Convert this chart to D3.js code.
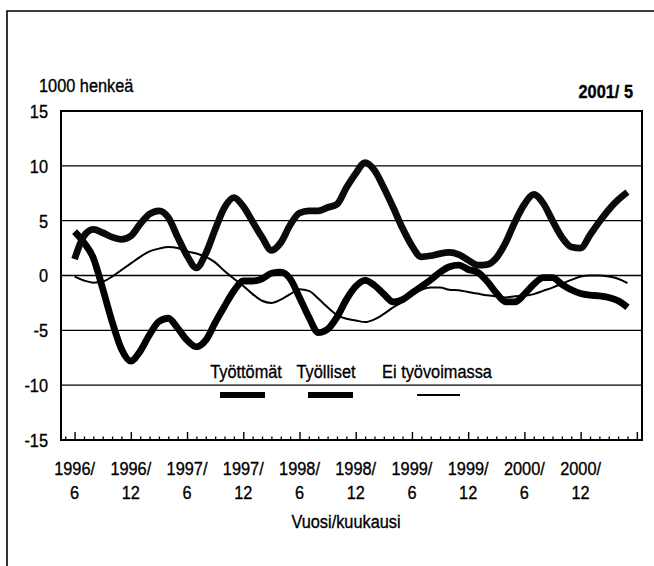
<!DOCTYPE html>
<html><head><meta charset="utf-8">
<script src="https://cdn.jsdelivr.net/npm/d3@7"></script>
<style>
body{margin:0;background:#fff}
svg text{font-family:"Liberation Sans",Arial,sans-serif;fill:#000;stroke:#000;stroke-width:0.35}
</style></head><body><svg id="c" width="654" height="566"></svg>
<script>
// monthly values 1996/6 .. 2001/5 (1000 persons)
const tyottomat = [4.0,3.0,1.6,-1.2,-4.2,-6.7,-7.8,-6.9,-5.4,-4.2,-3.9,-4.8,-5.9,-6.5,-5.9,-4.3,-2.8,-1.4,-0.5,-0.5,-0.3,0.2,0.3,-0.3,-2.0,-3.8,-5.2,-4.9,-3.8,-2.2,-1.0,-0.45,-0.9,-1.7,-2.4,-2.2,-1.6,-1.0,-0.4,0.3,0.8,0.95,0.55,0.3,-0.5,-1.6,-2.4,-2.4,-1.7,-0.8,-0.2,-0.2,-0.8,-1.3,-1.65,-1.8,-1.85,-2.0,-2.3,-2.9];
const tyolliset = [1.5,3.6,4.2,3.9,3.5,3.3,3.6,4.7,5.6,5.9,5.3,3.5,1.8,0.7,2.0,4.2,6.2,7.1,6.3,4.9,3.5,2.3,3.0,4.6,5.7,5.9,5.9,6.2,6.5,8.0,9.3,10.3,9.6,8.0,6.2,4.3,2.7,1.7,1.8,2.0,2.1,1.9,1.4,0.95,1.0,1.6,3.0,4.9,6.5,7.4,6.6,5.0,3.5,2.6,2.5,3.7,4.9,6.0,6.9,7.6];
const eiTyovoimassa = [-0.1,-0.45,-0.65,-0.55,-0.1,0.5,1.1,1.7,2.2,2.45,2.6,2.5,2.2,2.0,1.7,1.2,0.4,-0.3,-0.95,-1.7,-2.3,-2.5,-2.2,-1.7,-1.25,-1.4,-2.1,-2.9,-3.6,-3.95,-4.1,-4.25,-4.0,-3.5,-2.9,-2.4,-1.8,-1.3,-1.1,-1.1,-1.3,-1.35,-1.5,-1.65,-1.8,-1.9,-2.0,-1.9,-1.85,-1.7,-1.4,-1.1,-0.75,-0.4,-0.1,0.0,0.0,-0.1,-0.3,-0.7];
const xTickYears = ["1996/","1996/","1997/","1997/","1998/","1998/","1999/","1999/","2000/","2000/"];
const xTickMonths = ["6","12","6","12","6","12","6","12","6","12"];
const yTicks = [15,10,5,0,-5,-10,-15];
const gridValues = [10,5,0,-5,-10];
const seriesNames = ["Työttömät","Työlliset","Ei työvoimassa"];
const yTitle = "1000 henkeä";
const period = "2001/ 5";
const xTitle = "Vuosi/kuukausi";

const svg = d3.select("#c");
const L=61,R=642,T=111,B=440;
const SX=0.86, FS=19;
const x = d3.scaleLinear().domain([-1.45,60.55]).range([L,R]);
const y = d3.scaleLinear().domain([-15,15]).range([B,T]);

function label(px,py,str,anchor,opts={}){
  const t = svg.append("text")
    .attr("transform",`translate(${px},${py}) scale(${SX},1)`)
    .attr("text-anchor",anchor||"start")
    .attr("font-size",opts.size||FS)
    .text(str);
  if(opts.bold) t.attr("font-weight","bold");
  if(opts.dy) t.attr("dy",opts.dy);
  return t;
}

// outer frame
svg.append("path").attr("d",`M7,566V11H654`).attr("fill","none").attr("stroke","#000").attr("stroke-width",1.6);

// gridlines
svg.append("g").selectAll("line").data(gridValues).join("line")
  .attr("x1",L).attr("x2",R).attr("y1",d=>y(d)).attr("y2",d=>y(d))
  .attr("stroke","#000").attr("stroke-width",1.4);

// minor / major ticks
const monthIdx = d3.range(-1,61);
svg.append("g").attr("transform",`translate(0,${B})`)
  .call(d3.axisBottom(x).tickValues(monthIdx.filter(i=>i%6!==0)).tickSize(-3.5).tickFormat(""))
  .call(g=>g.select(".domain").remove())
  .call(g=>g.selectAll("line").attr("stroke","#000").attr("stroke-width",1.3));
svg.append("g").attr("transform",`translate(0,${B})`)
  .call(d3.axisBottom(x).tickValues(monthIdx.filter(i=>i%6===0)).tickSize(-8).tickFormat(""))
  .call(g=>g.select(".domain").remove())
  .call(g=>g.selectAll("line").attr("stroke","#000").attr("stroke-width",1.4));

// y axis labels
yTicks.forEach(v=>label(48,y(v),String(v),"end",{dy:"0.36em"}));

// x labels
xTickYears.forEach((t,k)=>{
  label(x(k*6),475,t,"middle");
  label(x(k*6),499,xTickMonths[k],"middle");
});
label(346,528,xTitle,"middle");
label(39,92,yTitle,"start");
label(633,98,period,"end",{bold:true});

// lines
const line = d3.line().x((d,i)=>x(i)).y(d=>y(d)).curve(d3.curveMonotoneX);
const series = [
  {v:tyottomat, w:6.8, c:"#000"},
  {v:tyolliset, w:6.8, c:"#0a0a0a"},
  {v:eiTyovoimassa, w:2, c:"#000"}
];
svg.append("g").selectAll("path").data(series).join("path")
  .attr("d",d=>line(d.v)).attr("fill","none").attr("stroke",d=>d.c)
  .attr("stroke-width",d=>d.w).attr("stroke-linejoin","round");

// plot frame
svg.append("rect").attr("x",L).attr("y",T).attr("width",R-L).attr("height",B-T)
  .attr("fill","none").attr("stroke","#000").attr("stroke-width",2);

// legend
const legCenters = [246,326,437];
const legSample = [[220,265,6],[308,353,6],[417,460,2]];
seriesNames.forEach((n,k)=>{
  label(legCenters[k],378,n,"middle");
  svg.append("line").attr("x1",legSample[k][0]).attr("x2",legSample[k][1]).attr("y1",395).attr("y2",395)
    .attr("stroke","#000").attr("stroke-width",legSample[k][2]);
});
</script></body></html>
